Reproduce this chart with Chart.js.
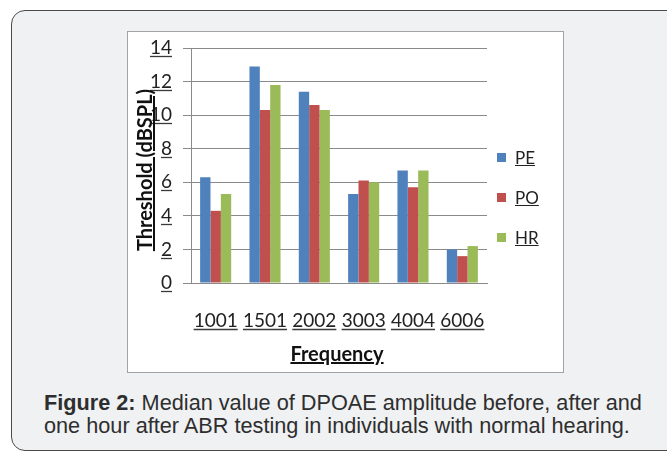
<!DOCTYPE html>
<html>
<head>
<meta charset="utf-8">
<script src="https://cdn.jsdelivr.net/npm/chart.js@4"></script>
<style>
  html, body { margin: 0; padding: 0; background: #ffffff; }
  body { width: 667px; height: 452px; position: relative; overflow: hidden; }
  #frame { position: absolute; left: 11px; top: 10px; width: 720px; height: 439px;
    border: 1.5px solid #4a4a4a; border-radius: 14px; background: #f0f1f3; }
  #box { position: absolute; left: 127px; top: 31px; width: 435px; height: 340px;
    border: 1px solid #a3a3a3; background: #ffffff; }
  #box canvas { position: absolute; left: 0; top: 0; }
  .ytitle { position: absolute; left: 33px; top: 159px; width: 220px; height: 22px; line-height: 22px;
    text-align: center; font: bold 20px Lato, sans-serif; color: #111; text-decoration: underline;
    text-decoration-thickness: 2px; transform: rotate(-90deg); white-space: nowrap; }
  .xtitle { position: absolute; left: 237px; top: 341px; width: 200px; height: 22px; line-height: 22px;
    text-align: center; font: bold 20px Lato, sans-serif; color: #111; text-decoration: underline;
    text-decoration-thickness: 2px; }
  .leg { position: absolute; left: 497px; height: 20px; line-height: 20px; font: 17px Lato, sans-serif; color: #222; }
  .leg i { position: absolute; left: 0; top: 6px; width: 9px; height: 9px; }
  .leg span { position: absolute; left: 18px; top: 0; text-decoration: underline; white-space: nowrap; }
  #caption { position: absolute; left: 44px; top: 391px; width: 630px; font: 21.7px "Liberation Sans", Arial, sans-serif;
    line-height: 23px; color: #2e2e2e; white-space: nowrap; }
</style>
</head>
<body>
<div id="frame"></div>
<div id="box"><canvas id="c" width="435" height="340"></canvas></div>
<div class="ytitle">Threshold (dBSPL)</div>
<div class="xtitle">Frequency</div>
<div id="legend"></div>
<div id="caption"><b>Figure 2:</b> Median value of DPOAE amplitude before, after and<br>one hour after ABR testing in individuals with normal hearing.</div>
<script>
const categories = ["1001", "1501", "2002", "3003", "4004", "6006"];
const seriesNames = ["PE", "PO", "HR"];
const pe = [6.3, 12.9, 11.4, 5.3, 6.7, 2.0];
const po = [4.3, 10.3, 10.6, 6.1, 5.7, 1.6];
const hr = [5.3, 11.8, 10.3, 6.0, 6.7, 2.2];
const seriesColors = ["#4f81bd", "#c0504d", "#9bbb59"];
const yTicks = [0, 2, 4, 6, 8, 10, 12, 14];

const seriesValues = [pe, po, hr];

// HTML legend
const legendEl = document.getElementById('legend');
const legendTops = [147, 187, 227];
seriesNames.forEach((n, i) => {
  const d = document.createElement('div');
  d.className = 'leg';
  d.style.top = legendTops[i] + 'px';
  d.innerHTML = '<i style="background:' + seriesColors[i] + '"></i><span>' + n + '</span>';
  legendEl.appendChild(d);
});

const underlinePlugin = {
  id: 'tickUnderline',
  afterDraw(chart) {
    const ctx = chart.ctx;
    ['x', 'y'].forEach(id => {
      const scale = chart.scales[id];
      const items = scale.getLabelItems();
      items.forEach(item => {
        const o = item.options || item;
        const label = Array.isArray(item.label) ? item.label[0] : item.label;
        ctx.save();
        ctx.font = item.font.string;
        ctx.textBaseline = o.textBaseline || 'middle';
        const m = ctx.measureText(label);
        const w = m.width;
        const x0 = o.translation[0];
        const y0 = o.translation[1] + (item.textOffset || 0);
        let xs = x0;
        if (o.textAlign === 'right') xs = x0 - w;
        else if (o.textAlign === 'center') xs = x0 - w / 2;
        const yy = Math.round(y0 + m.actualBoundingBoxDescent + 2) + 0.5;
        ctx.strokeStyle = '#3a3a3a';
        ctx.lineWidth = 1.3;
        ctx.beginPath();
        ctx.moveTo(xs, yy);
        ctx.lineTo(xs + w, yy);
        ctx.stroke();
        ctx.restore();
      });
    });
  }
};

new Chart(document.getElementById('c'), {
  type: 'bar',
  data: {
    labels: categories,
    datasets: seriesNames.map((n, i) => ({
      label: n,
      data: seriesValues[i],
      backgroundColor: seriesColors[i],
      borderWidth: 0,
      categoryPercentage: 0.63,
      barPercentage: 1.0
    }))
  },
  options: {
    responsive: false,
    animation: false,
    devicePixelRatio: 1,
    layout: { padding: { left: 0, right: 76, top: 16, bottom: 29 } },
    plugins: { legend: { display: false }, tooltip: { enabled: false } },
    scales: {
      x: {
        grid: { display: false, drawTicks: false },
        border: { display: true, color: '#8a8a8a', width: 1 },
        ticks: { color: '#222', font: { family: 'Lato', size: 19 }, padding: 26, maxRotation: 0, autoSkip: false },
        afterFit: s => { s.height = 60; s.paddingLeft = 0; s.paddingRight = 0; }
      },
      y: {
        min: 0, max: 14,
        afterBuildTicks: s => { s.ticks = yTicks.map(v => ({ value: v })); },
        grid: { color: '#8a8a8a', lineWidth: 1, drawTicks: true, tickLength: 8, tickColor: '#8a8a8a' },
        border: { display: true, color: '#8a8a8a', width: 1 },
        ticks: { color: '#222', font: { family: 'Lato', size: 19 }, padding: 11 },
        afterFit: s => { s.width = 63; s.paddingTop = 0; s.paddingBottom = 0; }
      }
    }
  },
  plugins: [underlinePlugin]
});
</script>
</body>
</html>
